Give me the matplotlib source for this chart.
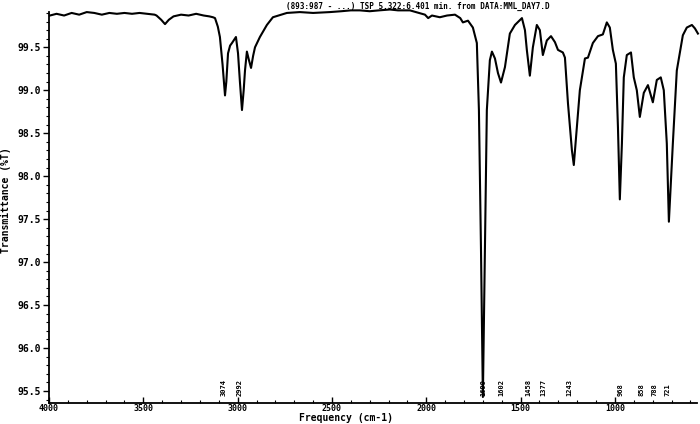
import matplotlib
matplotlib.use('Agg')
import matplotlib.pyplot as plt
from matplotlib.ticker import MultipleLocator

# spectrum: wavenumber (cm-1) and transmittance (%T)
freq = [3995, 3960, 3920, 3880, 3840, 3800, 3760, 3720, 3680, 3640, 3600, 3560,
        3520, 3480, 3440, 3430, 3405, 3385, 3365, 3340, 3300, 3260, 3220, 3180,
        3150, 3131, 3120, 3105, 3094, 3080, 3067, 3060, 3051, 3040, 3030, 3009,
        2998, 2988, 2977, 2968, 2961, 2951, 2940, 2929, 2918, 2908, 2882, 2845,
        2813, 2739, 2670, 2600, 2511, 2450, 2400, 2352, 2300, 2250, 2193, 2150,
        2087, 2040, 2007, 1990, 1970, 1928, 1890, 1848, 1820, 1806, 1779, 1753,
        1732, 1721, 1710, 1700, 1689, 1679, 1663, 1652, 1636, 1620, 1604, 1583,
        1557, 1530, 1493, 1477, 1467, 1451, 1435, 1414, 1398, 1382, 1361, 1339,
        1318, 1302, 1276, 1265, 1249, 1228, 1218, 1202, 1186, 1159, 1143, 1117,
        1090, 1064, 1043, 1027, 1011, 995, 984, 974, 963, 953, 937, 915, 900,
        884, 868, 847, 825, 799, 778, 757, 741, 725, 714, 693, 672, 640, 619,
        592, 576, 560]
trans = [99.87, 99.89, 99.87, 99.90, 99.88, 99.91, 99.90, 99.88, 99.90, 99.89,
         99.90, 99.89, 99.90, 99.89, 99.88, 99.87, 99.82, 99.77, 99.82, 99.86,
         99.88, 99.87, 99.89, 99.87, 99.86, 99.85, 99.84, 99.74, 99.62, 99.30,
         98.94, 99.10, 99.43, 99.52, 99.55, 99.62, 99.43, 99.10, 98.77, 99.00,
         99.23, 99.45, 99.35, 99.26, 99.40, 99.50, 99.62, 99.76, 99.85, 99.90,
         99.91, 99.90, 99.91, 99.92, 99.93, 99.93, 99.92, 99.93, 99.94, 99.93,
         99.93, 99.90, 99.88, 99.84, 99.87, 99.85, 99.87, 99.88, 99.84, 99.79,
         99.81, 99.73, 99.55, 98.77, 97.14, 95.43, 97.14, 98.77, 99.35, 99.45,
         99.37, 99.20, 99.09, 99.27, 99.66, 99.76, 99.84, 99.70, 99.47, 99.17,
         99.50, 99.76, 99.70, 99.41, 99.58, 99.63, 99.56, 99.47, 99.44, 99.38,
         98.85, 98.30, 98.13, 98.57, 99.00, 99.37, 99.38, 99.55, 99.63, 99.65,
         99.79, 99.73, 99.47, 99.31, 98.57, 97.73, 98.38, 99.15, 99.41, 99.44,
         99.15, 99.00, 98.69, 98.97, 99.06, 98.86, 99.12, 99.15, 99.00, 98.38,
         97.47, 98.38, 99.23, 99.64, 99.73, 99.76, 99.72, 99.66]

peak_labels = ['3074', '2992', '1699', '1602', '1458', '1377', '1243',
               '968', '858', '788', '721']

title = '(893:987 - ...) TSP 5.322:6.401 min. from DATA:MML_DAY7.D'

mono = {'family': 'DejaVu Sans Mono', 'weight': 'bold'}

fig = plt.figure(figsize=(7, 4.24), dpi=100)
ax = fig.add_axes([0.07, 0.0495, 0.9257, 0.922])

ax.plot(freq, trans, color='black', lw=1.5, clip_on=False, zorder=3)

for lab in peak_labels:
    ax.text(int(lab), 95.44, lab, rotation=90, ha='center', va='bottom',
            fontsize=5, color='black', zorder=2, **mono)

ax.set_xlim(4000, 565)
ax.set_ylim(95.36, 99.91)

ax.spines['top'].set_visible(False)
ax.spines['right'].set_visible(False)
ax.spines['left'].set_linewidth(1.3)
ax.spines['bottom'].set_linewidth(1.3)

ax.set_xticks([4000, 3500, 3000, 2500, 2000, 1500, 1000])
ax.set_xticklabels(['4000', '3500', '3000', '2500', '2000', '1500', '1000'])
ax.xaxis.set_minor_locator(MultipleLocator(100))
ax.set_yticks([95.5, 96.0, 96.5, 97.0, 97.5, 98.0, 98.5, 99.0, 99.5])
ax.set_yticklabels(['95.5', '96.0', '96.5', '97.0', '97.5', '98.0', '98.5',
                    '99.0', '99.5'])
ax.yaxis.set_minor_locator(MultipleLocator(0.1))

ax.tick_params(axis='x', which='major', direction='in', length=4, width=1,
               pad=1, labelsize=6)
ax.tick_params(axis='x', which='minor', direction='in', length=2, width=0.8)
ax.tick_params(axis='y', which='major', direction='out', length=4, width=1,
               pad=2, labelsize=7)
ax.tick_params(axis='y', which='minor', direction='out', length=2, width=0.8)
for t in ax.get_xticklabels() + ax.get_yticklabels():
    t.set_fontfamily('DejaVu Sans Mono')
    t.set_fontweight('bold')

ax.set_xlabel('Frequency (cm-1)', fontsize=7, va='top', **mono)
ax.xaxis.set_label_coords(0.458, -0.026)
ax.set_ylabel('Transmittance (%T)', fontsize=7, **mono)
ax.yaxis.set_label_coords(-0.058, 0.52)

fig.text(0.597, 0.995, title, ha='center', va='top', fontsize=5.5, **mono)

fig.savefig('out.png', dpi=100)
